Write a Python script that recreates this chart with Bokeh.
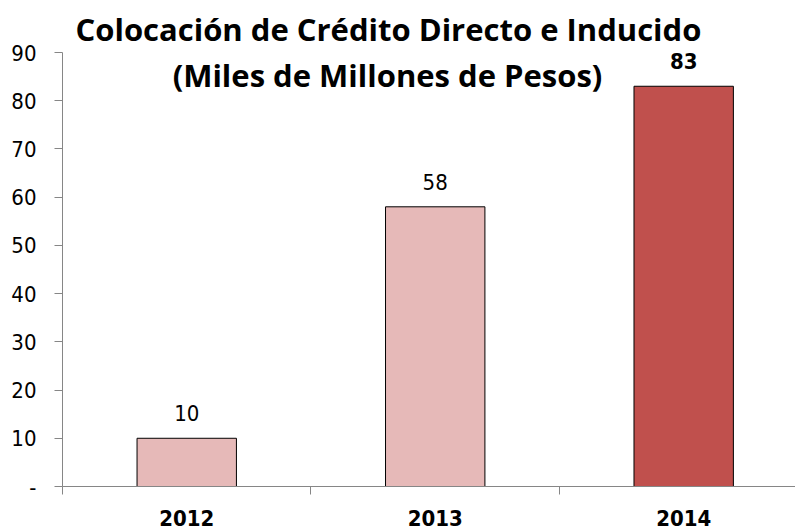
from bokeh.plotting import figure
from bokeh.models import Range1d, FixedTicker, Label, LinearAxis, ColumnDataSource, Title
from bokeh.core.properties import value
from bokeh.embed import file_html
from bokeh.resources import INLINE

categories = ["2012", "2013", "2014"]
values = [10, 58, 83]
bar_colors = ["#E6B9B8", "#E6B9B8", "#C0504D"]
label_styles = ["normal", "normal", "bold"]
y_ticks = [0, 10, 20, 30, 40, 50, 60, 70, 80, 90]
y_tick_labels = ["-", "10", "20", "30", "40", "50", "60", "70", "80", "90"]
title_lines = ["Colocación de Crédito Directo e Inducido", "(Miles de Millones de Pesos)"]

NARROW = "'Liberation Sans Narrow', 'DejaVu Sans Condensed', 'Liberation Sans', sans-serif"
TITLE_FONT = "Open Sans"

centers = [i + 0.5 for i in range(len(categories))]
src = ColumnDataSource(dict(x=centers, top=values, color=bar_colors,
                            txt=[str(v) for v in values], style=label_styles))

p = figure(width=795, height=530, output_backend="svg", toolbar_location=None,
           x_range=Range1d(0, 2.95), y_range=Range1d(0, 90),
           min_border_left=62, min_border_right=0, min_border_top=52, min_border_bottom=44,
           x_axis_location=None, y_axis_location=None)
p.outline_line_color = None
p.xgrid.visible = False
p.ygrid.visible = False

p.vbar(x="x", top="top", width=0.4, fill_color="color", line_color="#000000",
       line_width=1, source=src)
p.text(x="x", y="top", text="txt", text_font_style="style", source=src,
       text_align="center", text_baseline="bottom", y_offset=-17,
       text_font=value(NARROW), text_font_size="22px", text_color="#000000")

# y axis
yax = LinearAxis(ticker=FixedTicker(ticks=y_ticks, minor_ticks=[]))
yax.major_label_overrides = {t: l for t, l in zip(y_ticks, y_tick_labels)}
yax.axis_line_color = "#868686"
yax.major_tick_line_color = "#868686"
yax.major_tick_in = 0
yax.major_tick_out = 8
yax.major_label_standoff = 18
yax.major_label_text_font = NARROW
yax.major_label_text_font_size = "22px"
yax.major_label_text_color = "#000000"
p.add_layout(yax, "left")

# x axis
xax = LinearAxis(ticker=FixedTicker(ticks=centers,
                                    minor_ticks=list(range(len(categories) + 1))))
xax.major_label_overrides = {c: n for c, n in zip(centers, categories)}
xax.axis_line_color = "#868686"
xax.major_tick_line_color = None
xax.major_tick_in = 0
xax.major_tick_out = 0
xax.minor_tick_line_color = "#868686"
xax.minor_tick_in = 0
xax.minor_tick_out = 8
xax.major_label_standoff = 15
xax.major_label_text_font = NARROW
xax.major_label_text_font_style = "bold"
xax.major_label_text_font_size = "22px"
xax.major_label_text_color = "#000000"
p.add_layout(xax, "below")

# title: first line above the frame, second line overlapping the frame
p.add_layout(Title(text=title_lines[0], align="left", offset=13, standoff=6,
                   text_font=TITLE_FONT, text_font_style="bold",
                   text_font_size="31px", text_color="#000000"), "above")
p.add_layout(Label(x=1.308, y=85.4, text=title_lines[1], text_align="center",
                   text_baseline="alphabetic", text_font=TITLE_FONT,
                   text_font_style="bold", text_font_size="31px", text_color="#000000"))

open("out.html", "w").write(file_html(p, INLINE))
